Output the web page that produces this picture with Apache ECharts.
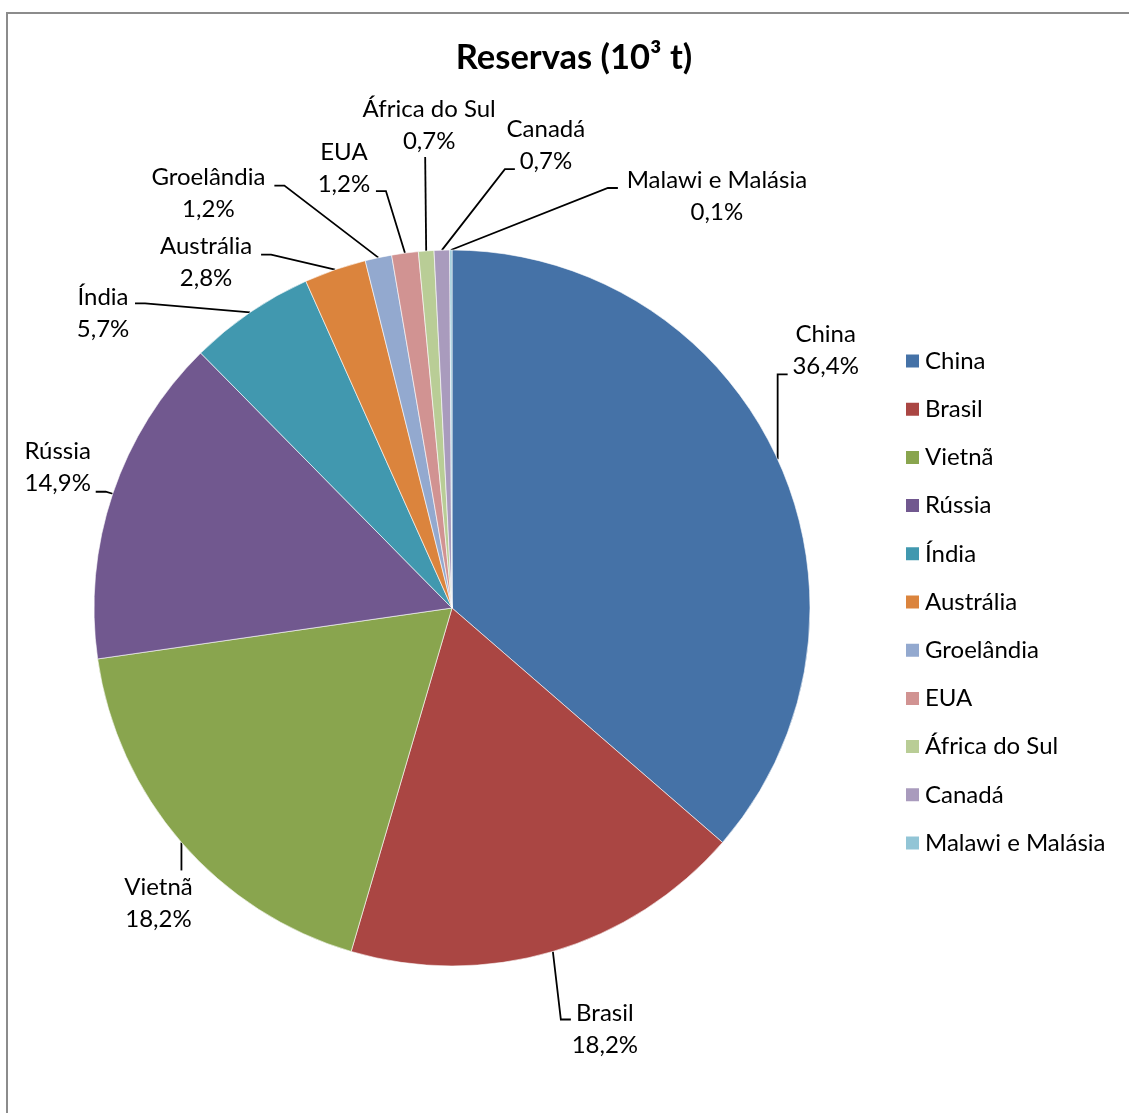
<!DOCTYPE html>
<html>
<head>
<meta charset="utf-8">
<script src="https://cdn.jsdelivr.net/npm/echarts@6/dist/echarts.min.js"></script>
<style>
  html, body { margin: 0; padding: 0; background: #ffffff; }
  #chart { width: 1129px; height: 1113px; }
</style>
</head>
<body>
<div id="chart"></div>
<script>
// Rare-earth reserves by country, share of world total (%)
const countries = ['China', 'Brasil', 'Vietnã', 'Rússia', 'Índia', 'Austrália',
  'Groelândia', 'EUA', 'África do Sul', 'Canadá', 'Malawi e Malásia'];
const shares = [36.4, 18.2, 18.2, 14.9, 5.7, 2.8, 1.2, 1.2, 0.7, 0.7, 0.1];
const palette = ['#4572A7', '#AA4643', '#89A54E', '#71588F', '#4198AF', '#DB843D',
  '#93A9CF', '#D19392', '#B9CD96', '#A99BBD', '#92C5D6'];
const titleText = 'Reservas (10³ t)';

// Pie geometry and label placement (label centre relative to the slice's edge point,
// leader end relative to the label centre, horizontal stub of the leader)
const CENTER = [452, 608];
const RADIUS = 358;
const labelShift = [[48, -109], [52, 78], [-23, 61], [-55, -26], [-147, 1], [-129, -7],
  [-170, -64], [-61, -85], [3, -126], [104, -105], [266, -54]];
const leaderEnd = [[-38, 24], [-34, -10], [23, -33], [38, 24], [32, -10], [55, -8],
  [66, -8], [32, 23], [-4, 32], [-31, 24], [-99, -8]];
const leaderStub = [-10, -10, 0, 10, 10, 10, 10, 10, 0, -10, -10];

const FONT = 'Lato, "Open Sans", sans-serif';
const total = shares.reduce((a, b) => a + b, 0);

function edgePoint(i) {
  let before = 0;
  for (let k = 0; k < i; k++) before += shares[k];
  const mid = (before + shares[i] / 2) / total * 2 * Math.PI;
  return [CENTER[0] + RADIUS * Math.sin(mid), CENTER[1] - RADIUS * Math.cos(mid)];
}

function pct(v) {
  return v.toFixed(1).replace('.', ',') + '%';
}

const chart = echarts.init(document.getElementById('chart'), null, { renderer: 'canvas' });

chart.setOption({
  backgroundColor: '#ffffff',
  animation: false,
  color: palette,
  title: {
    text: titleText,
    left: 569,
    textAlign: 'center',
    top: 35,
    textStyle: { fontFamily: FONT, fontSize: 34.5, fontWeight: 'bold', color: '#000000' }
  },
  legend: {
    orient: 'vertical',
    left: 904,
    top: 349,
    padding: 0,
    icon: 'rect',
    itemWidth: 15,
    itemHeight: 15,
    itemGap: 24.2,
    itemTextGap: 5,
    data: countries,
    textStyle: { fontFamily: FONT, fontSize: 24, lineHeight: 24, color: '#000000' }
  },
  graphic: [{
    type: 'rect',
    silent: true,
    shape: { x: 7, y: 13, width: 1140, height: 1120 },
    style: { fill: 'none', stroke: '#8c8c8c', lineWidth: 2 }
  }],
  series: [{
    type: 'pie',
    center: CENTER,
    radius: RADIUS,
    startAngle: 90,
    clockwise: true,
    avoidLabelOverlap: false,
    itemStyle: { borderColor: '#ffffff', borderWidth: 0.6 },
    label: {
      show: true,
      position: 'outside',
      fontFamily: FONT,
      fontSize: 24,
      lineHeight: 32,
      color: '#000000',
      formatter: p => p.name + '\n' + pct(p.value)
    },
    labelLine: {
      show: true,
      length: 20,
      length2: 10,
      lineStyle: { color: '#000000', width: 1.8 }
    },
    labelLayout: function (p) {
      const i = p.dataIndex;
      const a = edgePoint(i);
      const cx = a[0] + labelShift[i][0];
      const cy = a[1] + labelShift[i][1];
      const end = [cx + leaderEnd[i][0], cy + leaderEnd[i][1]];
      const elbow = [end[0] + leaderStub[i], end[1]];
      return {
        x: cx,
        y: cy,
        align: 'center',
        verticalAlign: 'middle',
        labelLinePoints: [a, elbow, end]
      };
    },
    emphasis: { disabled: true },
    data: countries.map((name, i) => ({ name: name, value: shares[i] }))
  }]
});
</script>
</body>
</html>
